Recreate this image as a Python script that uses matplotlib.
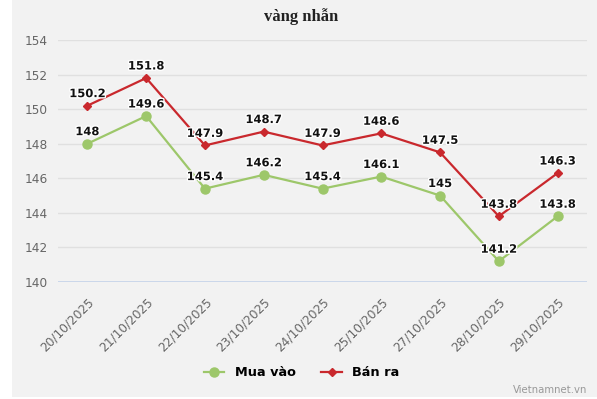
import matplotlib.pyplot as plt
import matplotlib.patheffects as pe
from matplotlib.lines import Line2D
from matplotlib.patches import Rectangle

# data (trieu dong/luong)
dates = ['20/10/2025', '21/10/2025', '22/10/2025', '23/10/2025', '24/10/2025',
         '25/10/2025', '27/10/2025', '28/10/2025', '29/10/2025']
mua_vao = [148, 149.6, 145.4, 146.2, 145.4, 146.1, 145, 141.2, 143.8]
ban_ra = [150.2, 151.8, 147.9, 148.7, 147.9, 148.6, 147.5, 143.8, 146.3]
yticks = [140, 142, 144, 146, 148, 150, 152, 154]

green = '#9dc76a'
red = '#c9282d'
bg = '#f2f2f2'

fig = plt.figure(figsize=(5.97, 3.99), dpi=100, facecolor='white')
# grey card behind the chart
fig.patches.append(Rectangle((12/597, 0.005), 1 - 12/597, 0.995, transform=fig.transFigure,
                             facecolor=bg, edgecolor='none', zorder=-5))

ax = fig.add_axes([58/597, 1 - 282/399, 529/597, 242/399])
ax.set_facecolor(bg)
x = list(range(len(dates)))

ax.plot(x, mua_vao, color=green, lw=1.6, marker='o', ms=6.5, zorder=3)
ax.plot(x, ban_ra, color=red, lw=1.6, marker='D', ms=4.5, zorder=3)

halo = [pe.withStroke(linewidth=2, foreground='white')]
for series in (mua_vao, ban_ra):
    for xi, v in zip(x, series):
        ax.annotate(f'{v:g}', (xi, v), xytext=(0, 4), textcoords='offset points',
                    ha='center', va='bottom', fontsize=8.3, fontweight='bold',
                    color='#111111', path_effects=halo, zorder=4)

ax.set_xlim(-0.5, len(dates) - 0.5)
ax.set_ylim(140, 154)
ax.set_yticks(yticks)
ax.set_xticks(x)
ax.set_xticklabels(dates, rotation=45, ha='right', rotation_mode='anchor')
ax.tick_params(axis='both', length=0, labelsize=8.7, colors='#666666')
ax.tick_params(axis='x', pad=10)
for lbl in ax.get_yticklabels():
    lbl.set_horizontalalignment('left')
ax.yaxis.set_tick_params(pad=24)

ax.grid(axis='y', color='#e0e0e0', lw=1)
ax.set_axisbelow(True)
for s in ax.spines.values():
    s.set_visible(False)
ax.axhline(140, color='#c5d3ea', lw=1.2, zorder=2.5)

fig.text(0.505, 1 - 17/399, 'vàng nhẫn', ha='center', va='center',
         fontsize=12, fontweight='bold', family='Liberation Serif', color='#222222')

handles = [Line2D([], [], color=green, lw=1.6, marker='o', ms=6.5),
           Line2D([], [], color=red, lw=1.6, marker='D', ms=4.5)]
fig.legend(handles, ['Mua vào', 'Bán ra'], loc='center', bbox_to_anchor=(0.505, 1 - 373/399),
           ncol=2, frameon=False, handlelength=1.6, columnspacing=2,
           prop={'weight': 'bold', 'size': 9.3})

fig.text(587/597, 1 - 390/399, 'Vietnamnet.vn', ha='right', va='center',
         fontsize=7.3, color='#999999')

fig.savefig('out.png', dpi=100, facecolor=fig.get_facecolor())
